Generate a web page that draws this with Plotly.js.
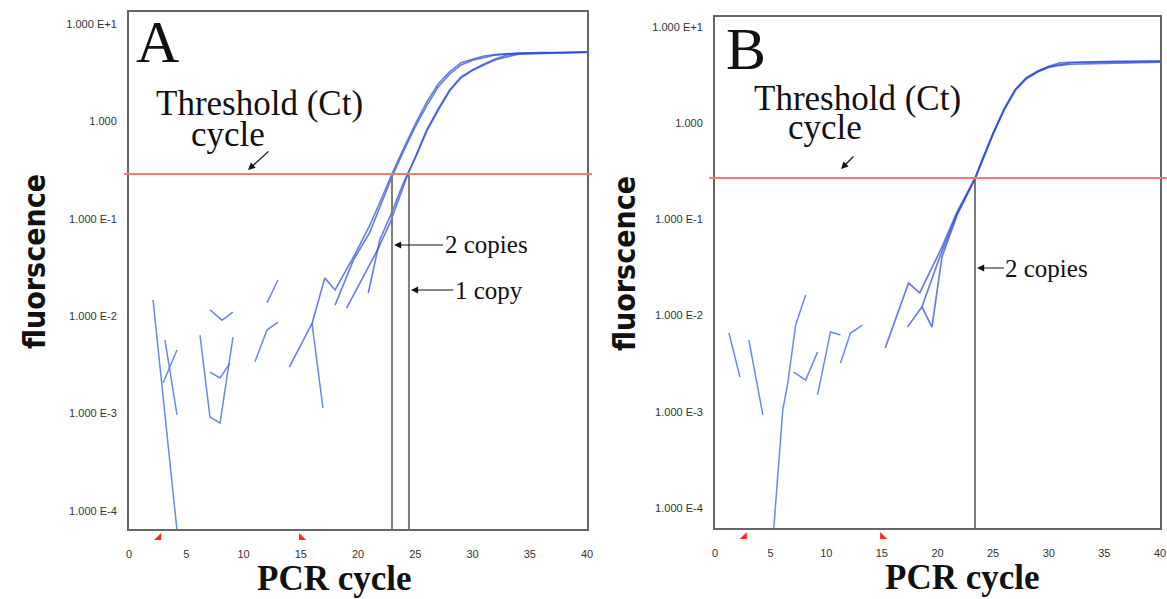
<!DOCTYPE html>
<html><head><meta charset="utf-8">
<script src="https://cdn.plot.ly/plotly-3.0.1.min.js"></script>
<style>html,body{margin:0;padding:0;background:#fff}#chart{width:1167px;height:599px}</style>
</head><body><div id="chart"></div>
<script>
// ---------- Panel A data ----------
const noiseA_cycle = [2.1, 4.28, null, 3.14, 4.19, null, 2.97, 4.19, null, 6.2, 7.07, 7.95, 9.08, null, 7.07, 7.95, 8.82, null, 7.07, 8.12, 9.08, null, 11.0, 12.05, 13.01, null, 12.05, 13.01, null, 15.98, 16.94];
const noiseA_value = [0.0147, 0.00005, null, 0.0057, 0.00097, null, 0.00206, 0.0045, null, 0.0064, 0.00092, 0.0008, 0.0061, null, 0.00267, 0.00232, 0.0033, null, 0.0116, 0.0091, 0.0110, null, 0.0034, 0.0072, 0.0087, null, 0.0137, 0.0235, null, 0.0085, 0.00114];
const ampA1_cycle = [14, 16, 17.1, 18, 19.8, 21, 22, 23, 24, 25, 26, 27, 28, 29, 30, 31, 32, 34, 36, 40];
const ampA1_value = [0.0030, 0.0085, 0.0246, 0.0186, 0.0446, 0.0844, 0.156, 0.295, 0.533, 0.94, 1.58, 2.42, 3.22, 4.0, 4.35, 4.69, 4.85, 5.04, 5.1, 5.1];
const ampA2_cycle = [18, 19.6, 21, 22, 23, 24, 25, 26, 27, 28, 29, 30, 32, 34, 40];
const ampA2_value = [0.0130, 0.0378, 0.0714, 0.139, 0.275, 0.50, 0.88, 1.45, 2.25, 3.05, 3.8, 4.25, 4.8, 5.0, 5.12];
const ampA3_cycle = [19, 21.7, 22.8, 24.4, 25, 26, 27, 28, 29, 30, 31, 32, 33, 34, 36, 40];
const ampA3_value = [0.0121, 0.0478, 0.0906, 0.295, 0.430, 0.817, 1.34, 2.10, 2.86, 3.37, 3.88, 4.37, 4.81, 4.92, 5.04, 5.16];
const ampA4_cycle = [20.9, 21.9, 23, 24, 25, 26, 27, 28, 29, 30, 32, 34, 40];
const ampA4_value = [0.0173, 0.0605, 0.120, 0.239, 0.42, 0.79, 1.30, 2.05, 2.80, 3.35, 4.30, 4.90, 5.14];
const thresholdA = 0.288;
const ctA = [22.97, 24.45];
const ctA_labels = ['2 copies', '1 copy'];
const baselineA = [2.45, 15.2];

// ---------- Panel B data ----------
const noiseB_cycle = [1.25, 2.24, null, 3.04, 4.30, null, 5.2, 6.09, 6.54, 7.25, 8.15, null, 7.07, 8.15, 9.22, null, 9.22, 10.38, 11.28, null, 11.28, 12.18, 13.25];
const noiseB_value = [0.0066, 0.0023, null, 0.0056, 0.00093, null, 0.000046, 0.00104, 0.00199, 0.00798, 0.0164, null, 0.00259, 0.00214, 0.0042, null, 0.0015, 0.00676, 0.00628, null, 0.00322, 0.00659, 0.00798];
const ampB1_cycle = [15.3, 17.4, 18.4, 20.4, 21.75, 23.37, 24, 25, 26, 27, 28, 29, 30, 31, 32, 34, 36, 40];
const ampB1_value = [0.0046, 0.0218, 0.0172, 0.0516, 0.119, 0.269, 0.414, 0.79, 1.42, 2.26, 2.98, 3.49, 3.90, 4.23, 4.30, 4.36, 4.40, 4.43];
const ampB2_cycle = [17.3, 18.6, 20.2, 21.75, 23.37, 24, 25, 26, 27, 28, 29, 30, 31, 32, 34, 36, 40];
const ampB2_value = [0.0076, 0.0123, 0.0407, 0.114, 0.263, 0.40, 0.77, 1.38, 2.2, 2.9, 3.4, 3.8, 4.0, 4.1, 4.18, 4.22, 4.30];
const ampB3_cycle = [18.6, 19.5, 20.4, 21.75, 23.37, 24, 25, 26, 27, 28, 29, 30, 32, 34, 40];
const ampB3_value = [0.0123, 0.0076, 0.0407, 0.110, 0.265, 0.41, 0.78, 1.40, 2.23, 2.95, 3.45, 3.86, 4.25, 4.32, 4.40];
const thresholdB = 0.27;
const ctB = [23.37];
const ctB_labels = ['2 copies'];
const baselineB = [2.5, 15.2];

// ---------- Axis ticks and titles ----------
const xTicks = [0, 5, 10, 15, 20, 25, 30, 35, 40];
const yTickVals = [1e-4, 1e-3, 1e-2, 1e-1, 1, 10];
const yTickText = ['1.000 E-4', '1.000 E-3', '1.000 E-2', '1.000 E-1', '1.000', '1.000 E+1'];
const xTitle = 'PCR cycle';
const yTitle = 'fluorscence';
const panelLabels = ['A', 'B'];

// ---------- Build ----------
const W = 1167, H = 599;
const noiseColor = 'rgba(85,125,230,0.9)';
const ampColor = 'rgba(45,75,215,0.72)';
const yRangeA = [-4.185, 1.123];
const yRangeB = [-4.208, 1.104];

function line(x, y, xa, ya, color, width) {
  return {type: 'scatter', mode: 'lines', x: x, y: y, xaxis: xa, yaxis: ya,
          line: {color: color, width: width}, hoverinfo: 'skip', connectgaps: false};
}
const traces = [];
traces.push(line(noiseA_cycle, noiseA_value, 'x', 'y', noiseColor, 1.5));
[[ampA1_cycle, ampA1_value], [ampA2_cycle, ampA2_value], [ampA3_cycle, ampA3_value], [ampA4_cycle, ampA4_value]]
  .forEach(d => traces.push(line(d[0], d[1], 'x', 'y', ampColor, 1.6)));
traces.push(line(noiseB_cycle, noiseB_value, 'x2', 'y2', noiseColor, 1.5));
[[ampB1_cycle, ampB1_value], [ampB2_cycle, ampB2_value], [ampB3_cycle, ampB3_value]]
  .forEach(d => traces.push(line(d[0], d[1], 'x2', 'y2', ampColor, 1.7)));
ctA.forEach(c => traces.push(line([c, c], [thresholdA, 1e-6], 'x', 'y', '#7d7d7d', 2)));
ctB.forEach(c => traces.push(line([c, c], [thresholdB, 1e-6], 'x2', 'y2', '#5a5a5a', 1.6)));

const tickFont = {family: 'Liberation Sans, Arial, sans-serif', size: 11, color: '#333'};

function xaxis(domain, anchor) {
  return {domain: domain, anchor: anchor, range: [0, 40], tickvals: xTicks, showgrid: false, zeroline: false,
    showline: true, mirror: true, linecolor: '#666', linewidth: 2, ticks: 'outside', ticklen: 14,
    tickcolor: 'rgba(0,0,0,0)', tickfont: tickFont, ticklabeloverflow: 'allow'};
}
function yaxis(domain, anchor, range) {
  return {domain: domain, anchor: anchor, type: 'log', range: range, tickvals: yTickVals, ticktext: yTickText,
    showgrid: false, zeroline: false, showline: true, mirror: true, linecolor: '#666', linewidth: 2,
    ticks: 'outside', ticklen: 8, tickcolor: 'rgba(0,0,0,0)', tickfont: tickFont};
}

const serif = 'Liberation Serif, Times New Roman, serif';
function txt(text, px, py, size, extra) {
  return Object.assign({text: text, xref: 'paper', yref: 'paper', x: px / W, y: 1 - py / H, xanchor: 'center', yanchor: 'middle',
    showarrow: false, font: {family: serif, size: size, color: '#111'}}, extra || {});
}
function arrow(hx, hy, ax, ay) {
  return {text: '', xref: 'paper', yref: 'paper', x: hx / W, y: 1 - hy / H, ax: ax, ay: ay, showarrow: true,
    arrowhead: 2, arrowsize: 1.1, arrowwidth: 1.3, arrowcolor: '#111'};
}
function ctLabel(text, xa, ct, py, ax) {
  return {text: text, xref: xa, yref: 'paper', x: ct, y: 1 - py / H, ax: ax, ay: 0, showarrow: true,
    arrowhead: 2, arrowsize: 1.2, arrowwidth: 1.2, arrowcolor: '#111', standoff: 2,
    font: {family: serif, size: 25, color: '#111'}};
}
const yTitleFont = {family: 'DejaVu Sans Condensed, Liberation Sans Narrow, Arial Narrow, sans-serif', size: 30, color: '#111', weight: 'bold'};
const xTitleFont = {family: serif, size: 35, color: '#111', weight: 'bold'};

const annotations = [
  txt(panelLabels[0], 157, 42, 60),
  txt(panelLabels[1], 746, 49, 60),
  txt('Threshold (Ct)', 259, 104, 35),
  txt('cycle', 228, 134, 35),
  txt('Threshold (Ct)', 857, 98, 35),
  txt('cycle', 825, 127, 35),
  arrow(248, 170, 22, -20),
  arrow(841, 169, 14, -14),
  ctLabel(ctA_labels[0], 'x', ctA[0], 245, 94),
  ctLabel(ctA_labels[1], 'x', ctA[1], 290, 80),
  ctLabel(ctB_labels[0], 'x2', ctB[0], 268, 72),
  txt(xTitle, 334, 578, 35, {font: xTitleFont}),
  txt(xTitle, 962, 577, 35, {font: xTitleFont}),
  txt(yTitle, 34, 262, 30, {textangle: -90, font: yTitleFont}),
  txt(yTitle, 624, 264, 30, {textangle: -90, font: yTitleFont})
];

function flag(xa, cx, path) {
  return {type: 'path', xref: xa, yref: (xa === 'x' ? 'y' : 'y2') + ' domain', xsizemode: 'pixel', ysizemode: 'pixel',
    xanchor: cx, yanchor: 0, path: path, fillcolor: '#ff2a1a', line: {width: 0}};
}
const shapes = [
  {type: 'line', xref: 'x domain', yref: 'y', x0: -0.011, x1: 1.011, y0: thresholdA, y1: thresholdA,
   line: {color: '#f27a74', width: 2}},
  {type: 'line', xref: 'x2 domain', yref: 'y2', x0: -0.013, x1: 1.02, y0: thresholdB, y1: thresholdB,
   line: {color: '#f27a74', width: 2}},
  flag('x', baselineA[0], 'M -3,-11 L 4,-11 L 4,-4 Z'),
  flag('x', baselineA[1], 'M -4,-11 L 3,-11 L -4,-4 Z'),
  flag('x2', baselineB[0], 'M -3,-11 L 4,-11 L 4,-4 Z'),
  flag('x2', baselineB[1], 'M -4,-11 L 3,-11 L -4,-4 Z')
];

const layout = {
  width: W, height: H, margin: {l: 0, r: 0, t: 0, b: 0},
  paper_bgcolor: '#fff', plot_bgcolor: '#fff', showlegend: false,
  font: {family: serif},
  xaxis: xaxis([129 / W, 587 / W], 'y'),
  yaxis: yaxis([1 - 529 / H, 1 - 12 / H], 'x', yRangeA),
  xaxis2: xaxis([715 / W, 1160 / W], 'y2'),
  yaxis2: yaxis([1 - 528 / H, 1 - 17 / H], 'x2', yRangeB),
  annotations: annotations,
  shapes: shapes
};

Plotly.newPlot('chart', traces, layout, {staticPlot: true, displayModeBar: false});
</script>
</body></html>
